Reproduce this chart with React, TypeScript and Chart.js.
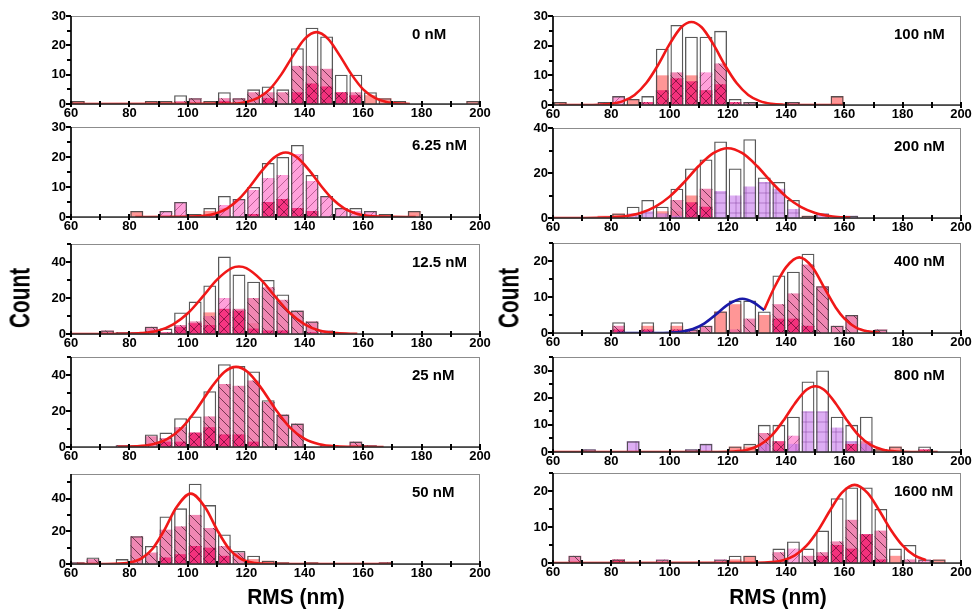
import React, { useEffect, useRef } from 'react';
import { Chart, registerables } from 'chart.js';

Chart.register(...registerables);

const FONT = '"Liberation Sans", Arial, Helvetica, sans-serif';

// 5 nm bins from 60 to 200 nm (bin centres)
const BIN_CENTERS = [62.5, 67.5, 72.5, 77.5, 82.5, 87.5, 92.5, 97.5, 102.5, 107.5, 112.5, 117.5, 122.5, 127.5,
  132.5, 137.5, 142.5, 147.5, 152.5, 157.5, 162.5, 167.5, 172.5, 177.5, 182.5, 187.5, 192.5, 197.5];
const X_MIN = 60;
const X_MAX = 200;
const X_TICK_STEP = 20;
const X_MINOR_STEP = 10;

// ---------- 0 nM ----------
const total0 = [1,0,0,0,0,1,1, 3,2,1,4,2,5,6, 5,19,26,23,10,10,4, 2,1,0,0,0,0,1];
const pink0 = [0,0,0,0,0,0,0, 1,2,0,2,2,4,4, 4,13,13,12,4,4,0, 0,0,0,0,0,0,0];
const deep0 = [0,0,0,0,0,0,0, 0,0,0,1,0,0,2, 0,4,7,6,4,3,0, 0,0,0,0,0,0,0];
const salmon0 = [1,0,0,0,0,1,1, 0,0,1,0,0,0,0, 0,0,0,0,0,0,3, 2,1,0,0,0,0,1];
const fitX0 = [60, 116, 120, 124, 128, 132, 136, 140, 144, 148, 152, 156, 160, 164, 168, 172, 176];
const fitY0 = [0, 0.1, 0.7, 2.1, 5.0, 10.1, 16.5, 22.2, 24.5, 22.2, 16.5, 10.1, 5.0, 2.1, 0.7, 0.15, 0];

// ---------- 6.25 nM ----------
const total625 = [0,0,0,0,2,0,2, 5,1,3,7,6,10,18, 20,24,14,7,3,3,2, 1,0,2,0,0,0,0];
const light625 = [0,0,0,0,0,0,2, 5,0,1,4,6,9,13, 14,21,12,7,3,2,2, 0,0,0,0,0,0,0];
const deep625 = [0,0,0,0,0,0,0, 0,0,0,0,0,1,5, 6,3,2,0,0,0,0, 0,0,0,0,0,0,0];
const salmon625 = [0,0,0,0,2,0,0, 0,1,2,3,0,0,0, 0,0,0,0,0,0,0, 1,0,2,0,0,0,0];
const fitX625 = [82, 101.5, 105.5, 109.5, 113.5, 117.5, 121.5, 125.5, 129.5, 133.5, 137.5, 141.5, 145.5, 149.5, 153.5, 157.5, 161.5, 165.5, 178];
const fitY625 = [0, 0.13, 0.43, 1.2, 2.9, 6.0, 10.5, 15.6, 19.8, 21.5, 19.8, 15.6, 10.5, 6.0, 2.9, 1.2, 0.43, 0.13, 0];

// ---------- 12.5 nM ----------
const total125 = [0,0,2,1,1,4,3, 12,18,27,43,33,29,30, 22,13,7,2,0,0,0, 0,0,0,0,0,0,0];
const pink125 = [0,0,2,1,1,4,0, 5,7,10,0,14,20,26, 19,13,7,0,0,0,0, 0,0,0,0,0,0,0];
const light125 = [0,0,0,0,0,0,0, 0,0,0,20,0,0,0, 0,0,0,2,0,0,0, 0,0,0,0,0,0,0];
const deep125 = [0,0,0,0,0,0,1, 4,6,5,14,13,3,2, 2,0,1,0,0,0,0, 0,0,0,0,0,0,0];
const salmon125 = [0,0,0,0,0,0,0, 0,0,12,0,0,6,0, 0,0,0,0,0,0,0, 0,0,0,0,0,0,0];
const fitX125 = [60, 70, 78, 84, 90, 95, 100, 105, 110, 115, 117.5, 120, 125, 130, 135, 140, 145, 151, 158];
const fitY125 = [0, 0.01, 0.09, 0.5, 2.0, 5.4, 11.5, 20.6, 30.2, 36.6, 37.5, 36.6, 30.2, 20.6, 11.5, 5.4, 2.0, 0.5, 0.09];

// ---------- 25 nM ----------
const total25 = [0,0,0,1,1,7,8, 16,17,31,46,45,42,26, 18,13,0,1,0,3,1, 0,0,0,0,0,0,0];
const pink25 = [0,0,0,1,0,6,5, 11,8,17,35,34,37,25, 18,13,0,1,0,3,1, 0,0,0,0,0,0,0];
const deep25 = [0,0,0,0,0,0,3, 3,8,11,7,7,3,0, 0,0,0,0,0,0,0, 0,0,0,0,0,0,0];
const salmon25 = [0,0,0,0,1,0,0, 0,0,0,0,0,0,0, 0,0,0,0,0,0,0, 0,0,0,0,0,0,0];
const fitX25 = [76, 82, 88, 93, 98, 103, 108, 112.5, 116.5, 120.5, 125, 130, 135, 140, 145, 151, 157, 167];
const fitY25 = [0.05, 0.33, 1.55, 4.5, 10.8, 21.0, 33.0, 41.7, 44.5, 41.7, 33.0, 21.0, 10.8, 4.5, 1.55, 0.33, 0.05, 0];

// ---------- 50 nM ----------
const total50 = [1,4,0,3,17,11,29, 34,49,36,18,8,5,2, 1,0,1,0,0,0,0, 1,0,0,0,0,0,0];
const pink50 = [1,3,0,0,17,7,21, 23,30,22,11,7,0,0, 0,0,0,0,0,0,0, 1,0,0,0,0,0,0];
const deep50 = [0,0,0,0,0,0,4, 6,11,10,5,0,0,0, 0,0,0,0,0,0,0, 0,0,0,0,0,0,0];
const salmon50 = [0,0,0,1,0,0,0, 0,0,0,0,0,3,2, 1,0,1,0,0,0,0, 0,0,0,0,0,0,0];
const fitX50 = [62, 70, 75, 80, 84, 88, 92, 96, 101, 106, 110, 114, 118, 122, 127, 132, 170];
const fitY50 = [0, 0.01, 0.1, 0.84, 3.3, 9.5, 20.9, 34.4, 43, 34.4, 20.9, 9.5, 3.3, 0.84, 0.1, 0.01, 0];

// ---------- 100 nM ----------
const total100 = [1,0,0,1,3,2,3, 19,27,23,23,25,2,1, 0,0,1,0,0,3,0, 0,0,0,0,0,0,0];
const pink100 = [0,0,0,0,0,0,0, 0,11,0,0,14,0,1, 0,0,1,0,0,0,0, 0,0,0,0,0,0,0];
const light100 = [0,0,0,1,3,0,0, 0,0,0,11,0,0,0, 0,0,0,0,0,0,0, 0,0,0,0,0,0,0];
const deep100 = [0,0,0,0,0,0,1, 5,9,8,5,7,1,0, 0,0,0,0,0,0,0, 0,0,0,0,0,0,0];
const salmon100 = [1,0,0,0,0,2,0, 10,0,10,0,0,0,0, 0,0,0,0,0,3,0, 0,0,0,0,0,0,0];
const fitX100 = [62, 70, 76, 80, 84, 88, 92, 96, 100, 104, 107.5, 111, 115, 119, 123, 127, 131, 135, 139, 145, 160];
const fitY100 = [0, 0.01, 0.11, 0.42, 1.3, 3.4, 7.4, 13.4, 20.5, 26.2, 28, 26.2, 20.5, 13.4, 7.4, 3.4, 1.3, 0.42, 0.11, 0.01, 0];

// ---------- 200 nM ----------
const total200 = [0,0,0,0,2,5,8, 5,13,22,26,34,22,35, 18,16,8,1,2,0,1, 0,0,0,0,0,0,0];
const purple200 = [0,0,0,0,0,2,3, 2,1,5,2,12,10,14, 16,13,4,0,2,0,1, 0,0,0,0,0,0,0];
const pink200 = [0,0,0,0,0,0,0, 0,8,0,13,0,0,0, 0,0,0,0,0,0,0, 0,0,0,0,0,0,0];
const deep200 = [0,0,0,0,0,0,0, 0,0,7,5,0,0,0, 0,0,0,0,0,0,0, 0,0,0,0,0,0,0];
const salmon200 = [0,0,0,1,2,0,0, 3,3,10,0,0,0,0, 0,0,0,1,0,0,0, 0,0,0,0,0,0,0];
const fitX200 = [60, 70, 78, 84, 90, 95, 100, 105, 110, 115, 120, 125, 130, 135, 140, 145, 150, 156, 162];
const fitY200 = [0, 0.02, 0.17, 0.67, 2.2, 4.9, 9.5, 15.9, 23.1, 28.8, 31, 28.8, 23.1, 15.9, 9.5, 4.9, 2.2, 0.67, 0.17];

// ---------- 400 nM ----------
const total400 = [0,0,0,0,3,0,3, 0,3,1,2,6,9,9, 6,16,17,22,13,2,5, 0,1,0,0,0,0,0];
const pink400 = [0,0,0,0,2,0,0, 0,0,1,2,0,1,4, 0,8,11,19,13,2,5, 0,1,0,0,0,0,0];
const deep400 = [0,0,0,0,1,0,1, 0,1,0,0,0,0,0, 0,4,4,2,0,0,0, 0,0,0,0,0,0,0];
const salmon400 = [0,0,0,0,0,0,2, 0,2,0,0,6,8,0, 5,0,0,0,0,0,0, 0,0,0,0,0,0,0];
const fitBlueX400 = [82, 95, 100, 104, 108, 112, 116, 120, 125, 129, 132.5];
const fitBlueY400 = [0, 0.01, 0.09, 0.36, 1.1, 2.7, 5.2, 7.9, 9.5, 8.4, 6.3];
const fitRedX400 = [132.5, 136, 140, 144.5, 149, 153, 157, 160, 164, 168, 172];
const fitRedY400 = [6.5, 12.7, 18.3, 21, 18.3, 12.7, 7.1, 4.0, 1.5, 0.46, 0.1];

// ---------- 800 nM ----------
const total800 = [0,0,1,0,0,4,0, 0,0,1,3,0,2,3, 10,10,13,26,30,13,10, 13,1,2,0,2,0,0];
const purple800 = [0,0,1,0,0,4,0, 0,0,1,3,0,0,0, 3,1,3,15,15,9,4, 3,0,0,0,0,0,0];
const pink800 = [0,0,0,0,0,0,0, 0,0,0,0,0,0,0, 7,0,0,0,0,0,0, 4,0,0,0,0,0,0];
const light800 = [0,0,0,0,0,0,0, 0,0,0,0,0,0,0, 0,0,6,0,0,0,0, 0,0,0,0,0,0,0];
const deep800 = [0,0,0,0,0,0,0, 0,0,0,0,0,0,0, 0,4,0,0,0,0,3, 0,0,0,0,1,0,0];
const salmon800 = [0,0,0,0,0,0,0, 0,0,0,0,0,2,2, 0,0,0,0,0,0,0, 0,1,2,0,0,0,0];
const fitX800 = [60, 114, 122, 127, 131, 135, 139, 143, 147, 150, 153, 157, 161, 165, 169, 173, 178, 186, 192];
const fitY800 = [0, 0.01, 0.19, 0.92, 2.6, 6.0, 11.5, 17.9, 22.9, 24.2, 22.9, 17.9, 11.5, 6.0, 2.6, 0.92, 0.19, 0.01, 0];

// ---------- 1600 nM ----------
const total1600 = [0,2,0,0,1,0,0, 1,0,0,0,1,2,2, 0,4,6,4,9,18,21, 21,15,4,5,1,1,0];
const pink1600 = [0,2,0,0,0,0,0, 0,0,0,0,0,0,0, 0,3,0,2,3,6,12, 8,9,0,1,0,0,0];
const light1600 = [0,0,0,0,0,0,0, 1,0,0,0,1,0,0, 0,0,4,0,0,0,0, 0,0,0,0,1,0,0];
const deep1600 = [0,0,0,0,1,0,0, 0,0,0,0,0,0,0, 0,0,0,0,2,5,4, 8,1,0,0,0,0,0];
const salmon1600 = [0,0,0,0,0,0,0, 0,0,0,0,0,1,2, 0,0,0,0,0,0,0, 0,0,2,0,0,1,0];
const fitX1600 = [60, 130, 135, 139, 143, 147, 151, 155, 159, 163.5, 168, 172, 176, 180, 184, 188];
const fitY1600 = [0, 0.04, 0.24, 0.77, 2.1, 4.8, 9.1, 14.5, 19.4, 21.7, 19.4, 14.5, 9.1, 4.8, 2.1, 0.77];

const RED = '#f01818';
const BLUE = '#1a1aa8';

type LayerKey = 'salmon' | 'pink' | 'light' | 'purple' | 'deep' | 'total';
interface Curve { x: number[]; y: number[]; color: string; }
interface PanelDef {
  label: string; yMax: number; yStep: number; col: number; top: number; bottom: number;
  layers: Partial<Record<LayerKey, number[]>>; curves: Curve[];
}

const PANELS: PanelDef[] = [
  { label: '0 nM', yMax: 30, yStep: 10, col: 0, top: 16, bottom: 104,
    layers: { total: total0, pink: pink0, deep: deep0, salmon: salmon0 }, curves: [{ x: fitX0, y: fitY0, color: RED }] },
  { label: '6.25 nM', yMax: 30, yStep: 10, col: 0, top: 127, bottom: 217,
    layers: { total: total625, light: light625, deep: deep625, salmon: salmon625 }, curves: [{ x: fitX625, y: fitY625, color: RED }] },
  { label: '12.5 nM', yMax: 50, yStep: 20, col: 0, top: 244, bottom: 334,
    layers: { total: total125, pink: pink125, light: light125, deep: deep125, salmon: salmon125 }, curves: [{ x: fitX125, y: fitY125, color: RED }] },
  { label: '25 nM', yMax: 50, yStep: 20, col: 0, top: 357, bottom: 447,
    layers: { total: total25, pink: pink25, deep: deep25, salmon: salmon25 }, curves: [{ x: fitX25, y: fitY25, color: RED }] },
  { label: '50 nM', yMax: 55, yStep: 20, col: 0, top: 474, bottom: 564,
    layers: { total: total50, pink: pink50, deep: deep50, salmon: salmon50 }, curves: [{ x: fitX50, y: fitY50, color: RED }] },
  { label: '100 nM', yMax: 30, yStep: 10, col: 1, top: 16, bottom: 105,
    layers: { total: total100, pink: pink100, light: light100, deep: deep100, salmon: salmon100 }, curves: [{ x: fitX100, y: fitY100, color: RED }] },
  { label: '200 nM', yMax: 40, yStep: 20, col: 1, top: 128, bottom: 218,
    layers: { total: total200, purple: purple200, pink: pink200, deep: deep200, salmon: salmon200 }, curves: [{ x: fitX200, y: fitY200, color: RED }] },
  { label: '400 nM', yMax: 25, yStep: 10, col: 1, top: 243, bottom: 333,
    layers: { total: total400, pink: pink400, deep: deep400, salmon: salmon400 },
    curves: [{ x: fitBlueX400, y: fitBlueY400, color: BLUE }, { x: fitRedX400, y: fitRedY400, color: RED }] },
  { label: '800 nM', yMax: 35, yStep: 10, col: 1, top: 357, bottom: 452,
    layers: { total: total800, purple: purple800, pink: pink800, light: light800, deep: deep800, salmon: salmon800 }, curves: [{ x: fitX800, y: fitY800, color: RED }] },
  { label: '1600 nM', yMax: 25, yStep: 10, col: 1, top: 473, bottom: 563,
    layers: { total: total1600, pink: pink1600, light: light1600, deep: deep1600, salmon: salmon1600 }, curves: [{ x: fitX1600, y: fitY1600, color: RED }] },
];

const COL_LEFT = [71, 553];
const COL_RIGHT = [480, 961];
const YW = 42;   // y-axis box width
const XH = 24;   // x-axis box height
const PT = 10;   // top padding
const PR = 16;   // right padding

function makePattern(fill: string, kind: string, line: string): CanvasPattern | string {
  const s = 10;
  const c = document.createElement('canvas');
  c.width = s; c.height = s;
  const g = c.getContext('2d');
  if (!g) return fill;
  g.fillStyle = fill;
  g.fillRect(0, 0, s, s);
  g.strokeStyle = line;
  g.lineWidth = 0.9;
  g.beginPath();
  if (kind === 'back' || kind === 'cross') {
    for (let k = -1; k <= 1; k++) { g.moveTo(0, k * s); g.lineTo(s, s + k * s); }
  }
  if (kind === 'fwd' || kind === 'cross') {
    for (let k = 0; k <= 2; k++) { g.moveTo(0, k * s); g.lineTo(s, k * s - s); }
  }
  if (kind === 'vert') {
    g.moveTo(s / 2, 0); g.lineTo(s / 2, s);
    g.moveTo(0, s / 2); g.lineTo(s, s / 2);
  }
  g.stroke();
  return g.createPattern(c, 'repeat') || fill;
}

const LAYER_STYLE: Record<string, { fill: string; kind: string; line: string; order: number }> = {
  salmon: { fill: 'rgba(255,115,115,0.75)', kind: 'none', line: '', order: 6 },
  pink: { fill: 'rgba(236,105,160,0.8)', kind: 'back', line: 'rgba(60,15,35,0.75)', order: 5 },
  light: { fill: 'rgba(255,125,205,0.72)', kind: 'fwd', line: 'rgba(120,30,80,0.55)', order: 4 },
  purple: { fill: 'rgba(200,125,235,0.62)', kind: 'vert', line: 'rgba(110,40,140,0.45)', order: 3 },
  deep: { fill: 'rgba(245,35,115,0.85)', kind: 'cross', line: 'rgba(60,0,30,0.6)', order: 2 },
};

function Panel({ def }: { def: PanelDef }) {
  const ref = useRef<HTMLCanvasElement | null>(null);
  const left = COL_LEFT[def.col] - YW;
  const plotW = COL_RIGHT[def.col] - COL_LEFT[def.col];
  const width = YW + plotW + PR;
  const height = PT + (def.bottom - def.top) + XH;
  const top = def.top - PT;

  useEffect(() => {
    const canvas = ref.current;
    if (!canvas) return;
    const datasets: any[] = [];
    (['salmon', 'pink', 'light', 'purple', 'deep'] as string[]).forEach((key) => {
      const arr = (def.layers as any)[key] as number[] | undefined;
      if (!arr) return;
      const st = LAYER_STYLE[key];
      const bg = st.kind === 'none' ? st.fill : makePattern(st.fill, st.kind, st.line);
      datasets.push({
        type: 'bar', order: st.order,
        data: BIN_CENTERS.map((x, i) => ({ x, y: arr[i] })).filter((p) => p.y > 0),
        backgroundColor: bg, borderWidth: 0,
        barPercentage: 0.88, categoryPercentage: 1, grouped: false,
      });
    });
    if (def.layers.total) {
      const arr = def.layers.total;
      datasets.push({
        type: 'bar', order: 1,
        data: BIN_CENTERS.map((x, i) => ({ x, y: arr[i] })).filter((p) => p.y > 0),
        backgroundColor: 'rgba(0,0,0,0)', borderColor: 'rgba(70,70,70,0.9)', borderWidth: 1.3,
        barPercentage: 0.88, categoryPercentage: 1, grouped: false,
      });
    }
    def.curves.forEach((c) => {
      datasets.push({
        type: 'line', order: 0,
        data: c.x.map((x, i) => ({ x, y: c.y[i] })),
        borderColor: c.color, borderWidth: 2.6, pointRadius: 0, fill: false,
        cubicInterpolationMode: 'monotone',
      });
    });

    const yStep = def.yStep;
    const yMax = def.yMax;
    const label = def.label;
    const axesPlugin = {
      id: 'customAxes',
      afterDatasetsDraw(chart: any) {
        const ctx = chart.ctx as CanvasRenderingContext2D;
        const ca = chart.chartArea;
        const xs = chart.scales.x;
        const ys = chart.scales.y;
        ctx.save();
        ctx.strokeStyle = '#8c8c8c';
        ctx.lineWidth = 1;
        ctx.strokeRect(ca.left, ca.top + 0.5, ca.right - ca.left - 0.5, ca.bottom - ca.top);
        ctx.strokeStyle = '#000';
        ctx.lineWidth = 1.6;
        ctx.beginPath();
        ctx.moveTo(ca.left, ca.top); ctx.lineTo(ca.left, ca.bottom);
        ctx.stroke();
        ctx.strokeStyle = '#333';
        ctx.lineWidth = 1.4;
        ctx.beginPath();
        ctx.moveTo(ca.left, ca.bottom); ctx.lineTo(ca.right, ca.bottom);
        ctx.stroke();
        ctx.strokeStyle = '#000';
        ctx.lineWidth = 2;
        ctx.beginPath();
        for (let v = X_MIN; v <= X_MAX; v += X_MINOR_STEP) {
          const px = Math.round(xs.getPixelForValue(v));
          ctx.moveTo(px, ca.bottom - 3); ctx.lineTo(px, ca.bottom + 3);
        }
        for (let v = 0; v <= yMax + 0.001; v += yStep / 2) {
          const py = Math.round(ys.getPixelForValue(v));
          const major = Math.abs(v / yStep - Math.round(v / yStep)) < 1e-6;
          ctx.moveTo(ca.left - (major ? 5 : 4), py); ctx.lineTo(ca.left, py);
        }
        ctx.stroke();
        ctx.fillStyle = '#000';
        ctx.font = `bold 15px ${FONT}`;
        ctx.textAlign = 'left';
        ctx.textBaseline = 'middle';
        ctx.fillText(label, ca.left + 341, ca.top + 19);
        ctx.restore();
      },
    };

    const chart = new Chart(canvas, {
      type: 'bar',
      data: { datasets },
      options: {
        responsive: false,
        animation: false,
        devicePixelRatio: 1,
        layout: { padding: { top: PT, right: PR, left: 0, bottom: 0 } },
        plugins: { legend: { display: false }, tooltip: { enabled: false } },
        scales: {
          x: {
            type: 'linear', min: X_MIN, max: X_MAX, offset: false,
            grid: { display: false, drawTicks: false }, border: { display: false },
            ticks: {
              stepSize: X_TICK_STEP, autoSkip: false, maxRotation: 0, color: '#000', padding: 2,
              font: { family: FONT, size: 13, weight: 'bold' },
            },
            afterFit: (s: any) => { s.height = XH; s.paddingLeft = 0; s.paddingRight = 0; s.paddingTop = 0; s.paddingBottom = 0; },
          },
          y: {
            type: 'linear', min: 0, max: yMax,
            grid: { display: false, drawTicks: false }, border: { display: false },
            ticks: {
              stepSize: yStep, color: '#000', padding: 5,
              font: { family: FONT, size: 13, weight: 'bold' },
              callback: (v: any) => (Math.abs(v % yStep) < 1e-6 ? String(v) : ''),
            },
            afterFit: (s: any) => { s.width = YW; s.paddingTop = 0; s.paddingBottom = 0; s.paddingLeft = 0; s.paddingRight = 0; },
          },
        },
      } as any,
      plugins: [axesPlugin],
    });
    return () => chart.destroy();
  }, [def]);

  return (
    <canvas
      ref={ref}
      width={width}
      height={height}
      style={{ position: 'absolute', left, top, width, height }}
    />
  );
}

const labelStyle: React.CSSProperties = {
  position: 'absolute', fontFamily: FONT, fontWeight: 'bold', color: '#000', whiteSpace: 'nowrap', lineHeight: 1,
};

export default function App() {
  return (
    <div style={{ position: 'absolute', left: 0, top: 0, width: 975, height: 612, background: '#fff', overflow: 'hidden' }}>
      {PANELS.map((p) => <Panel key={p.label} def={p} />)}
      <div style={{ ...labelStyle, left: 20, top: 298, fontSize: 26, transform: 'translate(-50%,-50%) rotate(-90deg) scale(0.8,1.1)' }}>Count</div>
      <div style={{ ...labelStyle, left: 509, top: 298, fontSize: 26, transform: 'translate(-50%,-50%) rotate(-90deg) scale(0.8,1.1)' }}>Count</div>
      <div style={{ ...labelStyle, left: 296, top: 597, fontSize: 22, transform: 'translate(-50%,-50%) scale(0.95,1)' }}>RMS (nm)</div>
      <div style={{ ...labelStyle, left: 778, top: 597, fontSize: 22, transform: 'translate(-50%,-50%) scale(0.95,1)' }}>RMS (nm)</div>
    </div>
  );
}
